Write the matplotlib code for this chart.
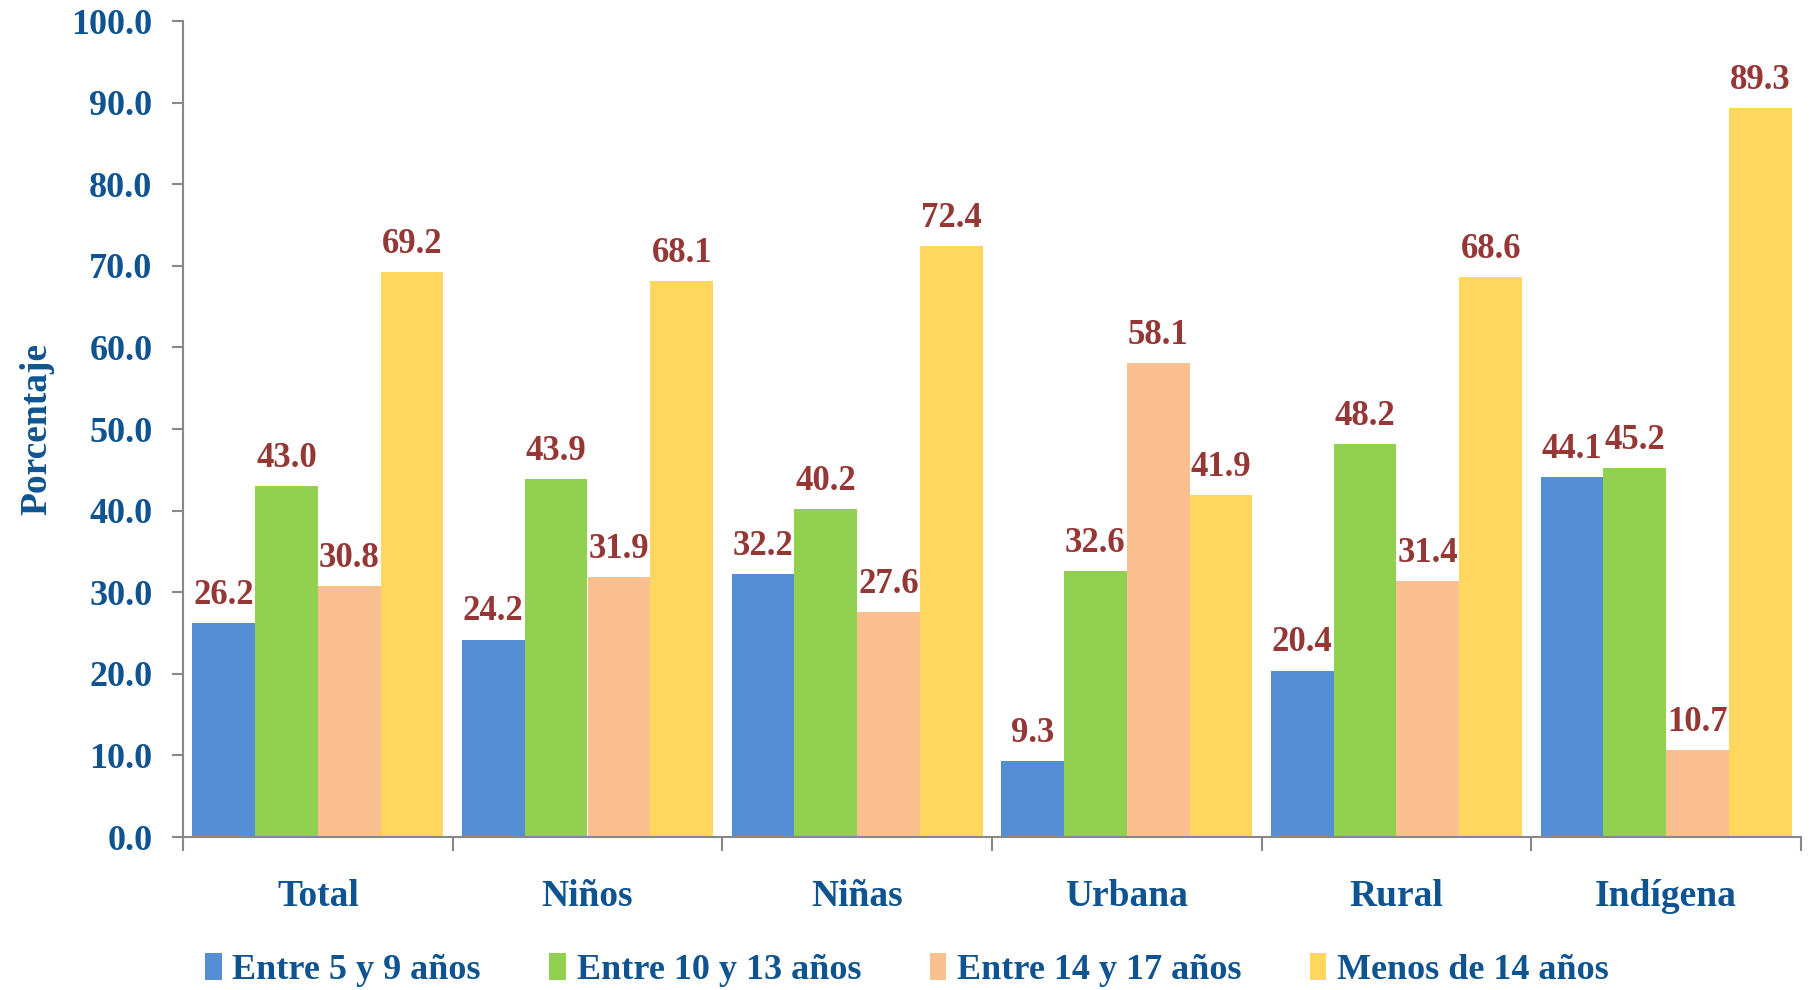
import numpy as np
import matplotlib.pyplot as plt

categorias = ['Total', 'Niños', 'Niñas', 'Urbana', 'Rural', 'Indígena']
series = ['Entre 5 y 9 años', 'Entre 10 y 13 años', 'Entre 14 y 17 años', 'Menos de 14 años']
entre_5_9 = [26.2, 24.2, 32.2, 9.3, 20.4, 44.1]
entre_10_13 = [43.0, 43.9, 40.2, 32.6, 48.2, 45.2]
entre_14_17 = [30.8, 31.9, 27.6, 58.1, 31.4, 10.7]
menos_14 = [69.2, 68.1, 72.4, 41.9, 68.6, 89.3]
colores = ['#558ED5', '#92D050', '#FAC090', '#FFD65E']

azul = '#0F5490'
rojo = '#953735'
fuente = ['Liberation Serif', 'DejaVu Serif']
plt.rcParams['font.family'] = fuente
plt.rcParams['font.weight'] = 'bold'
plt.rcParams['axes.labelweight'] = 'bold'

fig = plt.figure(figsize=(18.14, 9.9), dpi=100)
ax = fig.add_axes([183 / 1814, 1 - 837 / 990, (1801 - 183) / 1814, (837 - 21) / 990])

x = np.arange(len(categorias))
w = 0.233
datos = [entre_5_9, entre_10_13, entre_14_17, menos_14]
for i, (vals, c, nombre) in enumerate(zip(datos, colores, series)):
    pos = x + (i - 1.5) * w
    ax.bar(pos, vals, w, color=c, label=nombre)
    for px, v in zip(pos, vals):
        ax.annotate(f'{v:.1f}', (px, v), xytext=(0, 8), textcoords='offset points',
                    ha='center', va='bottom', color=rojo, fontsize=25, fontweight='bold')

ax.set_xlim(-0.5, len(categorias) - 0.5)
ax.set_ylim(0, 100)
ax.set_yticks(np.arange(0, 101, 10))
ax.set_yticklabels([f'{t:.1f}' for t in np.arange(0, 101, 10)], color=azul, fontsize=26,
                   fontweight='bold')
ax.set_xticks(x)
ax.set_xticklabels(categorias, color=azul, fontsize=27, fontweight='bold')
ax.set_xticks(np.arange(-0.5, len(categorias)), minor=True)
ax.tick_params(axis='x', which='major', length=0, pad=30)
ax.tick_params(axis='x', which='minor', length=10, color='#888888', width=1.5)
ax.tick_params(axis='y', length=8, color='#888888', width=1.5, pad=14)
for s in ['top', 'right']:
    ax.spines[s].set_visible(False)
for s in ['left', 'bottom']:
    ax.spines[s].set_color('#888888')
    ax.spines[s].set_linewidth(1.5)

ax.set_ylabel('Porcentaje', color=azul, fontsize=27, fontweight='bold', labelpad=12)

leg = fig.legend(loc='lower center', bbox_to_anchor=(0.5, -0.03), ncol=4, frameon=False,
                 prop={'family': fuente, 'weight': 'bold', 'size': 26},
                 handlelength=0.45, handleheight=0.8, handletextpad=0.3, columnspacing=1.9)
for t in leg.get_texts():
    t.set_color(azul)

fig.savefig('out.png', dpi=100)
